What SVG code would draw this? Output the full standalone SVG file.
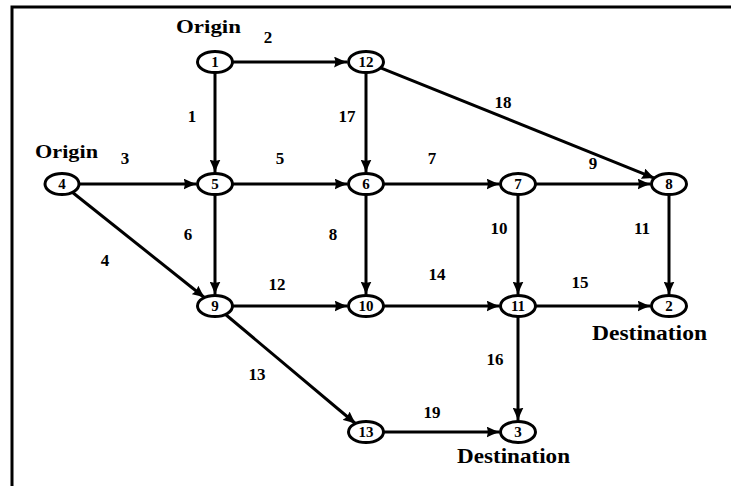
<svg xmlns="http://www.w3.org/2000/svg" width="731" height="486" viewBox="0 0 731 486">
<style>
.e{fill:none;stroke:#000;stroke-width:3;marker-end:url(#ah)}
.n ellipse{fill:#fff;stroke:#000;stroke-width:3}
.n text{font-family:"Liberation Serif","Times New Roman",serif;font-weight:bold;font-size:15px;text-anchor:middle;fill:#000}
.l{font-family:"Liberation Serif","Times New Roman",serif;font-weight:bold;font-size:17px;text-anchor:middle;fill:#000}
.t{font-family:"Liberation Serif","Times New Roman",serif;font-weight:bold;fill:#000}
</style>
<defs>
<marker id="ah" viewBox="0 0 13 11" refX="13" refY="5.5" markerWidth="13" markerHeight="11" markerUnits="userSpaceOnUse" orient="auto">
<path d="M0,0 Q6,3 13,5.5 Q6,8 0,11 Q2.5,5.5 0,0 z" fill="#000"/>
</marker>
</defs>
<rect width="731" height="486" fill="#fff"/>
<path d="M12,486 V7 H731" fill="none" stroke="#000" stroke-width="3"/>
<g id="connectors">
<line class="e" x1="233" y1="62" x2="347" y2="62"/>
<line class="e" x1="215" y1="73" x2="215" y2="172.5"/>
<line class="e" x1="79" y1="184" x2="196.5" y2="184"/>
<line class="e" x1="72" y1="192" x2="205" y2="298"/>
<line class="e" x1="233" y1="184" x2="347.5" y2="184"/>
<line class="e" x1="215" y1="195" x2="215" y2="294.5"/>
<line class="e" x1="384" y1="184" x2="499.5" y2="184"/>
<line class="e" x1="366" y1="195" x2="366" y2="294.5"/>
<line class="e" x1="536" y1="184" x2="650.5" y2="184"/>
<line class="e" x1="518" y1="195" x2="518" y2="294.5"/>
<line class="e" x1="669" y1="195" x2="669" y2="294.5"/>
<line class="e" x1="233" y1="306" x2="347.5" y2="306"/>
<line class="e" x1="225" y1="314" x2="356" y2="424"/>
<line class="e" x1="384" y1="306" x2="499.5" y2="306"/>
<line class="e" x1="536" y1="306" x2="650.5" y2="306"/>
<line class="e" x1="518" y1="317" x2="518" y2="420.5"/>
<line class="e" x1="366" y1="73" x2="366" y2="172.5"/>
<line class="e" x1="380" y1="67.6" x2="655" y2="178.4"/>
<line class="e" x1="384" y1="432" x2="499.5" y2="432"/>
</g>
<g id="edge-labels">
<text class="l" x="268" y="43">2</text>
<text class="l" x="192" y="122">1</text>
<text class="l" x="125" y="164">3</text>
<text class="l" x="105" y="266">4</text>
<text class="l" x="280" y="164">5</text>
<text class="l" x="188" y="240">6</text>
<text class="l" x="432" y="164">7</text>
<text class="l" x="333" y="240">8</text>
<text class="l" x="593" y="169">9</text>
<text class="l" x="499" y="234">10</text>
<text class="l" x="642" y="234">11</text>
<text class="l" x="277" y="290">12</text>
<text class="l" x="257" y="380">13</text>
<text class="l" x="437" y="280">14</text>
<text class="l" x="580" y="288">15</text>
<text class="l" x="495" y="365">16</text>
<text class="l" x="347" y="122">17</text>
<text class="l" x="503" y="108">18</text>
<text class="l" x="432" y="418">19</text>
</g>
<g id="annotations">
<text class="t" x="176" y="33" font-size="19" textLength="65" lengthAdjust="spacingAndGlyphs">Origin</text>
<text class="t" x="35" y="158" font-size="19" textLength="63" lengthAdjust="spacingAndGlyphs">Origin</text>
<text class="t" x="592" y="340" font-size="22" textLength="115" lengthAdjust="spacingAndGlyphs">Destination</text>
<text class="t" x="457" y="463" font-size="22" textLength="113" lengthAdjust="spacingAndGlyphs">Destination</text>
</g>
<g id="n1" class="n"><ellipse cx="215" cy="62" rx="17.5" ry="10.5"/><text x="215" y="67">1</text></g>
<g id="n12" class="n"><ellipse cx="366" cy="62" rx="17.5" ry="10.5"/><text x="366" y="67">12</text></g>
<g id="n4" class="n"><ellipse cx="62" cy="184" rx="17" ry="10.5"/><text x="62" y="189">4</text></g>
<g id="n5" class="n"><ellipse cx="215" cy="184" rx="17.5" ry="10.5"/><text x="215" y="189">5</text></g>
<g id="n6" class="n"><ellipse cx="366" cy="184" rx="17.5" ry="10.5"/><text x="366" y="189">6</text></g>
<g id="n7" class="n"><ellipse cx="518" cy="184" rx="17.5" ry="10.5"/><text x="518" y="189">7</text></g>
<g id="n8" class="n"><ellipse cx="669" cy="184" rx="17.5" ry="10.5"/><text x="669" y="189">8</text></g>
<g id="n9" class="n"><ellipse cx="215" cy="306" rx="17.5" ry="10.5"/><text x="215" y="311">9</text></g>
<g id="n10" class="n"><ellipse cx="366" cy="306" rx="17.5" ry="10.5"/><text x="366" y="311">10</text></g>
<g id="n11" class="n"><ellipse cx="518" cy="306" rx="17.5" ry="10.5"/><text x="518" y="311">11</text></g>
<g id="n2" class="n"><ellipse cx="669" cy="306" rx="17.5" ry="10.5"/><text x="669" y="311">2</text></g>
<g id="n13" class="n"><ellipse cx="366" cy="432" rx="17.5" ry="10.5"/><text x="366" y="437">13</text></g>
<g id="n3" class="n"><ellipse cx="518" cy="432" rx="17.5" ry="10.5"/><text x="518" y="437">3</text></g>
</svg>
